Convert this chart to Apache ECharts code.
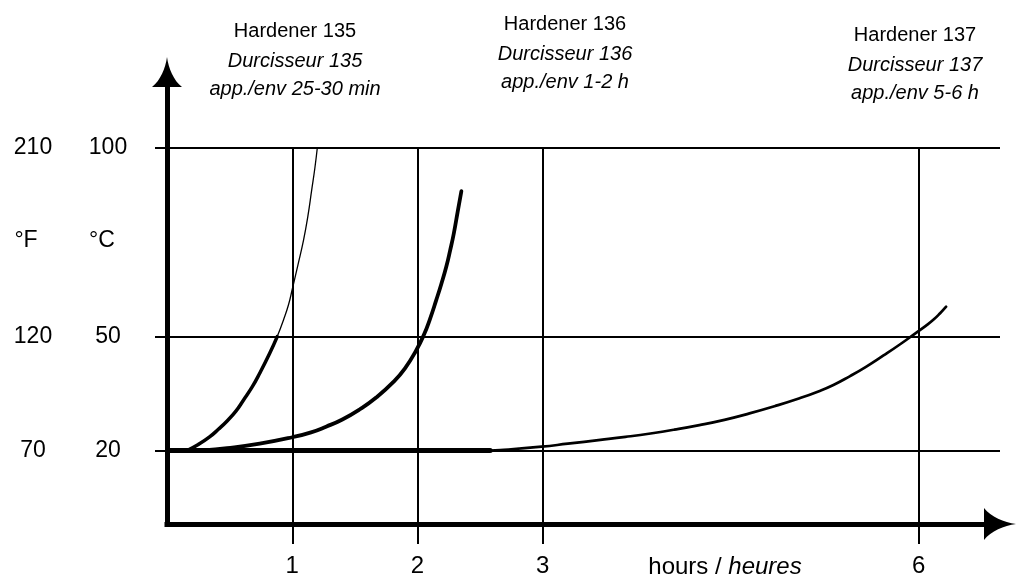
<!DOCTYPE html>
<html><head><meta charset="utf-8">
<script src="https://cdn.jsdelivr.net/npm/echarts@6/dist/echarts.min.js"></script>
<style>html,body{margin:0;padding:0;background:#fff}#c{width:1018px;height:580px}</style>
</head><body><div id="c"></div>
<script>
// ---- data ----
const hourTicks = [1, 2, 3, 6];
const celsiusTicks = [20, 50, 100];
const fahrenheitLabels = ['70', '120', '210'];
const hardener135Lower = [[0.16,20],[0.25,21.6],[0.34,23.6],[0.41,25.6],[0.48,27.8],[0.55,30.4],[0.61,33.3],[0.68,36.8],[0.74,40.4],[0.82,45.7],[0.88,50.1]];
const hardener135Upper = [[0.88,50.1],[0.93,54.5],[0.97,58.5],[1.0,62.6],[1.045,69.0],[1.09,75.6],[1.125,82.0],[1.155,88.8],[1.18,94.5],[1.2,100]];
const hardener136 = [[0.29,20],[0.48,20.6],[0.74,21.8],[1.0,23.5],[1.15,24.8],[1.27,26.3],[1.4,28.2],[1.54,30.9],[1.67,34.0],[1.81,38.2],[1.9,41.7],[1.99,46.5],[2.05,50.5],[2.1,54.8],[2.15,59.8],[2.19,64.0],[2.23,68.6],[2.26,72.8],[2.29,77.4],[2.32,83.0],[2.35,88.5]];
const hardener137Flat = [[0.02,20],[2.58,20]];
const hardener137Rise = [[2.58,20],[2.66,20.1],[2.99,21.0],[3.2,21.8],[3.46,22.8],[3.66,23.6],[3.86,24.5],[4.05,25.5],[4.25,26.7],[4.45,28.1],[4.65,29.8],[4.85,31.7],[5.05,33.8],[5.2,35.6],[5.32,37.3],[5.45,39.6],[5.58,42.1],[5.72,45.1],[5.85,48.0],[5.98,51.1],[6.06,53.0],[6.12,54.6],[6.17,56.2],[6.22,58.0]];
const headerTitles = ['Hardener 135', 'Hardener 136', 'Hardener 137'];
const headerFrench = ['Durcisseur 135', 'Durcisseur 136', 'Durcisseur 137'];
const headerPotLife = ['app./env 25-30 min', 'app./env 1-2 h', 'app./env 5-6 h'];
const unitLabels = ['°F', '°C'];
const xAxisName = ['hours / ', 'heures'];

// ---- layout ----
const X_MIN = 0, X_MAX = 6.65, Y_MIN = 0.58, Y_MAX = 120;
const FONT = 'Liberation Sans, Arial, sans-serif';
const arrowPath = 'path://M50,0 C55,38 72,78 100,100 L0,100 C28,78 45,38 50,0 Z';

const chart = echarts.init(document.getElementById('c'), null, {renderer: 'canvas'});

const headerX = [295, 565, 915];
const headerY = [[31, 61, 89], [24, 54, 82], [35, 65, 93]];
const graphics = [];
headerTitles.forEach((t, i) => {
  const lines = [[t, 'normal'], [headerFrench[i], 'italic'], [headerPotLife[i], 'italic']];
  lines.forEach((ln, j) => {
    graphics.push({type: 'text', x: headerX[i], y: headerY[i][j], silent: true,
      style: {text: ln[0], fontSize: 20, fontStyle: ln[1], fontFamily: FONT, fill: '#000',
        textAlign: 'center', textVerticalAlign: 'middle'}});
  });
});
graphics.push({type: 'text', x: 26, y: 241, silent: true,
  style: {text: unitLabels[0], fontSize: 23, fontFamily: FONT, fill: '#000', textAlign: 'center', textVerticalAlign: 'middle'}});
graphics.push({type: 'text', x: 102, y: 241, silent: true,
  style: {text: unitLabels[1], fontSize: 23, fontFamily: FONT, fill: '#000', textAlign: 'center', textVerticalAlign: 'middle'}});
graphics.push({type: 'text', x: 725, y: 567, silent: true,
  style: {text: '{u|' + xAxisName[0] + '}{i|' + xAxisName[1] + '}', textAlign: 'center', textVerticalAlign: 'middle',
    rich: {u: {fontSize: 24, fontFamily: FONT, fill: '#000', color: '#000'},
           i: {fontSize: 24, fontFamily: FONT, fontStyle: 'italic', fill: '#000', color: '#000'}}}});

const gridLines = [];
celsiusTicks.forEach(v => gridLines.push([{coord: [X_MIN, v]}, {coord: [X_MAX, v]}]));
hourTicks.forEach(v => gridLines.push([{coord: [v, Y_MIN]}, {coord: [v, 100]}]));

const lineSeries = (data, width, z) => ({
  type: 'line', data, showSymbol: false, symbol: 'none', smooth: 0.5,
  lineStyle: {color: '#000', width, cap: 'round', join: 'round'}, z, silent: true
});

const option = {
  backgroundColor: '#fff',
  animation: false,
  grid: {left: 167, top: 72, width: 833, height: 452, containLabel: false},
  xAxis: {
    type: 'value', min: X_MIN, max: X_MAX,
    axisLine: {show: true, onZero: false, symbol: ['none', arrowPath], symbolSize: [32, 36],
      lineStyle: {color: '#000', width: 5, cap: 'square'}},
    axisTick: {show: true, customValues: hourTicks, length: 20, lineStyle: {color: '#000', width: 2}},
    axisLabel: {show: true, customValues: hourTicks, margin: 30, fontSize: 24, fontFamily: FONT, color: '#000'},
    splitLine: {show: false}
  },
  yAxis: {
    type: 'value', min: Y_MIN, max: Y_MAX,
    axisLine: {show: true, onZero: false, symbol: ['none', arrowPath], symbolSize: [30, 40],
      lineStyle: {color: '#000', width: 5, cap: 'square'}},
    axisTick: {show: true, customValues: celsiusTicks, length: 12, lineStyle: {color: '#000', width: 2}},
    axisLabel: {show: true, customValues: celsiusTicks, margin: 29,
      formatter: v => '{f|' + fahrenheitLabels[celsiusTicks.indexOf(v)] + '}{c|' + v + '}',
      rich: {f: {width: 90, align: 'center', fontSize: 23, fontFamily: FONT, color: '#000'},
             c: {width: 60, align: 'center', fontSize: 23, fontFamily: FONT, color: '#000'}}},
    splitLine: {show: false}
  },
  graphic: graphics,
  series: [
    {type: 'line', data: [], z: 1, silent: true,
      markLine: {silent: true, symbol: 'none', label: {show: false}, animation: false,
        lineStyle: {color: '#000', width: 2, type: 'solid'}, emphasis: {disabled: true}, data: gridLines}},
    lineSeries(hardener137Flat, 5, 3),
    lineSeries(hardener137Rise, 2.7, 3),
    lineSeries(hardener136, 3.8, 3),
    lineSeries(hardener135Lower, 3.5, 3),
    lineSeries(hardener135Upper, 1.3, 3)
  ]
};
chart.setOption(option);
</script></body></html>
